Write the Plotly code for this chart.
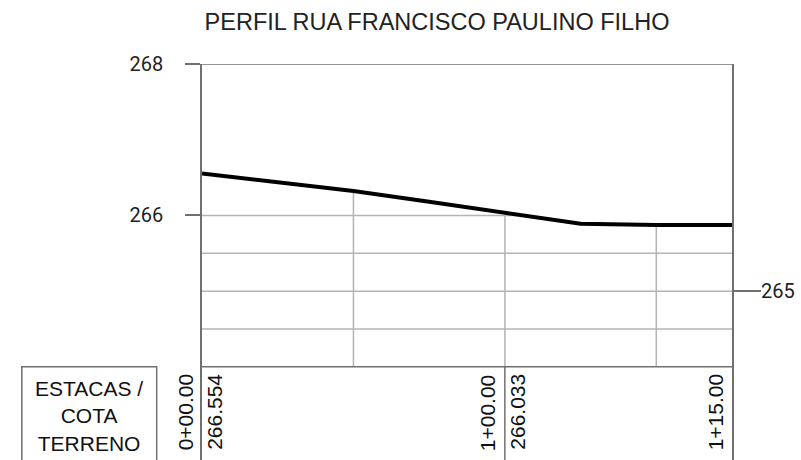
import numpy as np
import plotly.graph_objects as go

# ---- data ----
title_text = "PERFIL RUA FRANCISCO PAULINO FILHO"
distance_m = [0, 5, 10, 15, 20, 25, 30, 35]
elevation = [266.554, 266.44, 266.322, 266.18, 266.033, 265.89, 265.875, 265.875]
station_pos = [0, 20, 35]
station_labels = ["0+00.00", "1+00.00", "1+15.00"]
cota_pos = [0, 20]
cota_labels = ["266.554", "266.033"]
left_ticks = [266, 268]
right_ticks = [265]
vgrid_pos = [10, 20, 30]
hgrid_full = [265.5, 265.0, 264.5]
table_header = ["ESTACAS /", "COTA", "TERRENO"]

# ---- layout constants ----
Y_TOP, Y_BASE, Y_MIN = 268, 264, 262.77
X_MIN, X_MAX = 0, 35
GRID = "#b4b4b4"
AXIS = "#707070"
TXT = "#111111"

fig = go.Figure()
fig.add_trace(go.Scatter(x=distance_m, y=elevation, mode="lines",
                         line=dict(color="black", width=4), hoverinfo="skip",
                         showlegend=False))
# invisible trace for right axis
fig.add_trace(go.Scatter(x=[X_MIN], y=[Y_TOP], yaxis="y2", mode="markers",
                         marker=dict(opacity=0), showlegend=False, hoverinfo="skip"))

shapes = []
for h in hgrid_full:
    shapes.append(dict(type="line", xref="x", yref="y", x0=X_MIN, x1=X_MAX, y0=h, y1=h,
                       line=dict(color=GRID, width=1.5), layer="below"))
x_cross = float(np.interp(266, elevation[::-1], distance_m[::-1]))
shapes.append(dict(type="line", xref="x", yref="y", x0=X_MIN, x1=x_cross, y0=266, y1=266,
                   line=dict(color=GRID, width=1.5), layer="below"))
for v in vgrid_pos:
    e = float(np.interp(v, distance_m, elevation))
    shapes.append(dict(type="line", xref="x", yref="y", x0=v, x1=v, y0=e, y1=Y_BASE,
                       line=dict(color=GRID, width=1.5), layer="below"))
shapes.append(dict(type="line", xref="x", yref="y", x0=20, x1=20, y0=Y_BASE, y1=Y_MIN - 1,
                   line=dict(color=AXIS, width=1.5)))
shapes.append(dict(type="line", xref="x", yref="y", x0=X_MIN, x1=X_MAX, y0=Y_TOP, y1=Y_TOP,
                   line=dict(color=AXIS, width=1.5)))
shapes.append(dict(type="line", xref="x", yref="y", x0=X_MIN, x1=X_MAX, y0=Y_BASE, y1=Y_BASE,
                   line=dict(color=AXIS, width=1.5)))
shapes.append(dict(type="rect", xref="paper", yref="y", x0=-0.340, x1=-0.0855,
                   y0=Y_MIN - 1, y1=Y_BASE, line=dict(color=AXIS, width=1.5)))

annotations = []
annotations.append(dict(xref="paper", yref="y", x=-0.213, y=263.35,
                        text="<br>".join(table_header), showarrow=False,
                        font=dict(family="Liberation Sans", size=21, color=TXT),
                        align="center", xanchor="center", yanchor="middle"))
for p, lab in zip(station_pos, station_labels):
    annotations.append(dict(xref="x", yref="y", x=p, y=Y_BASE, text=lab, showarrow=False,
                            textangle=-90, xanchor="center", yanchor="top",
                            xshift=-17, yshift=-5,
                            font=dict(family="Liberation Sans", size=21, color=TXT)))
for p, lab in zip(cota_pos, cota_labels):
    annotations.append(dict(xref="x", yref="y", x=p, y=Y_BASE, text=lab, showarrow=False,
                            textangle=-90, xanchor="center", yanchor="top",
                            xshift=13, yshift=-5,
                            font=dict(family="Liberation Sans", size=21, color=TXT)))

fig.update_layout(
    width=801, height=460,
    margin=dict(l=202, r=69, t=64, b=0, autoexpand=False),
    paper_bgcolor="white", plot_bgcolor="white",
    title=dict(text=title_text, x=437 / 801, xref="container", xanchor="center",
               y=1 - 22 / 460, yref="container", yanchor="middle",
               font=dict(family="Liberation Sans", size=23.5, color="#222222")),
    xaxis=dict(range=[X_MIN, X_MAX], showgrid=False, zeroline=False, showline=False,
               showticklabels=False, ticks="", automargin=False),
    yaxis=dict(range=[Y_MIN, Y_TOP], tickvals=left_ticks, ticks="outside", ticklen=15,
               tickcolor=AXIS, tickwidth=1.5, showline=True, linecolor=AXIS, linewidth=1.5,
               mirror=True, showgrid=False, zeroline=False, ticklabelstandoff=18,
               automargin=False,
               tickfont=dict(family="Roboto", size=20, color="#222222")),
    yaxis2=dict(range=[Y_MIN, Y_TOP], overlaying="y", side="right", tickvals=right_ticks,
                ticks="outside", ticklen=28, tickcolor=AXIS, tickwidth=1.5,
                showline=False, showgrid=False, zeroline=False, ticklabelstandoff=-4,
                automargin=False,
                tickfont=dict(family="Roboto", size=20, color="#222222")),
    shapes=shapes, annotations=annotations, showlegend=False,
)

fig.write_html("out.html", config={"displayModeBar": False},
               post_script="document.body.style.margin='0';document.body.style.overflow='hidden';")
